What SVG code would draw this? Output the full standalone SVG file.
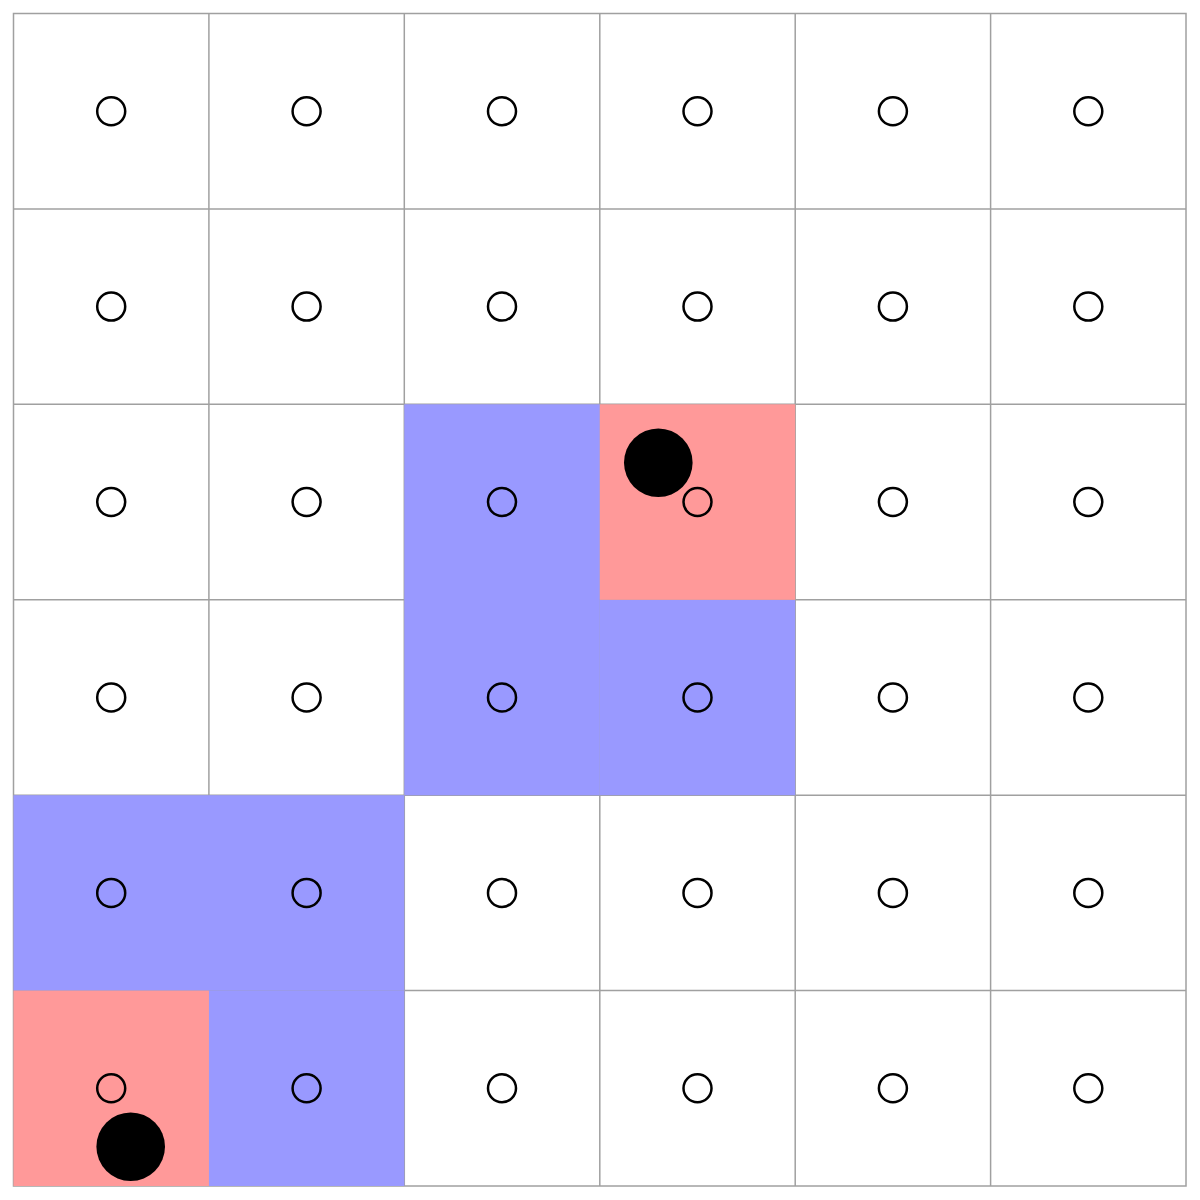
<svg xmlns="http://www.w3.org/2000/svg" width="1200" height="1200" viewBox="0 0 1200 1200">
<style>
.grid{stroke:#a0a0a0;stroke-width:1.5;fill:none}
.blue{fill:#9999ff}
.pink{fill:#ff9999}
.dot{fill:none;stroke:#000;stroke-width:2.5}
.ball{fill:#000}
</style>
<rect width="1200" height="1200" fill="#fff"/>
<g id="grid" class="grid">
<rect x="13.5" y="13.5" width="1172.5" height="1172.5"/>
<line x1="208.9" y1="13.5" x2="208.9" y2="1186"/>
<line x1="404.3" y1="13.5" x2="404.3" y2="1186"/>
<line x1="599.8" y1="13.5" x2="599.8" y2="1186"/>
<line x1="795.2" y1="13.5" x2="795.2" y2="1186"/>
<line x1="990.6" y1="13.5" x2="990.6" y2="1186"/>
<line y1="208.9" x1="13.5" y2="208.9" x2="1186"/>
<line y1="404.3" x1="13.5" y2="404.3" x2="1186"/>
<line y1="599.8" x1="13.5" y2="599.8" x2="1186"/>
<line y1="795.2" x1="13.5" y2="795.2" x2="1186"/>
<line y1="990.6" x1="13.5" y2="990.6" x2="1186"/>
</g>
<g id="cells">
<rect class="blue" x="404.3" y="404.3" width="195.5" height="391"/>
<rect class="blue" x="599.8" y="599.8" width="195.4" height="195.4"/>
<rect class="pink" x="599.8" y="404.3" width="195.4" height="195.5"/>
<rect class="blue" x="13.5" y="795.2" width="390.8" height="195.4"/>
<rect class="blue" x="208.9" y="990.6" width="195.4" height="195.4"/>
<rect class="pink" x="13.5" y="990.6" width="195.4" height="195.4"/>
</g>
<g id="nodes" class="dot">
<circle cx="111.2" cy="111.2" r="14"/><circle cx="306.6" cy="111.2" r="14"/><circle cx="502" cy="111.2" r="14"/><circle cx="697.5" cy="111.2" r="14"/><circle cx="892.9" cy="111.2" r="14"/><circle cx="1088.3" cy="111.2" r="14"/>
<circle cx="111.2" cy="306.6" r="14"/><circle cx="306.6" cy="306.6" r="14"/><circle cx="502" cy="306.6" r="14"/><circle cx="697.5" cy="306.6" r="14"/><circle cx="892.9" cy="306.6" r="14"/><circle cx="1088.3" cy="306.6" r="14"/>
<circle cx="111.2" cy="502" r="14"/><circle cx="306.6" cy="502" r="14"/><circle cx="502" cy="502" r="14"/><circle cx="697.5" cy="502" r="14"/><circle cx="892.9" cy="502" r="14"/><circle cx="1088.3" cy="502" r="14"/>
<circle cx="111.2" cy="697.5" r="14"/><circle cx="306.6" cy="697.5" r="14"/><circle cx="502" cy="697.5" r="14"/><circle cx="697.5" cy="697.5" r="14"/><circle cx="892.9" cy="697.5" r="14"/><circle cx="1088.3" cy="697.5" r="14"/>
<circle cx="111.2" cy="892.9" r="14"/><circle cx="306.6" cy="892.9" r="14"/><circle cx="502" cy="892.9" r="14"/><circle cx="697.5" cy="892.9" r="14"/><circle cx="892.9" cy="892.9" r="14"/><circle cx="1088.3" cy="892.9" r="14"/>
<circle cx="111.2" cy="1088.3" r="14"/><circle cx="306.6" cy="1088.3" r="14"/><circle cx="502" cy="1088.3" r="14"/><circle cx="697.5" cy="1088.3" r="14"/><circle cx="892.9" cy="1088.3" r="14"/><circle cx="1088.3" cy="1088.3" r="14"/>
</g>
<g id="balls" class="ball">
<circle id="ball1" cx="658.3" cy="462.7" r="34.3"/>
<circle id="ball2" cx="130.7" cy="1146.7" r="34.3"/>
</g>
</svg>
